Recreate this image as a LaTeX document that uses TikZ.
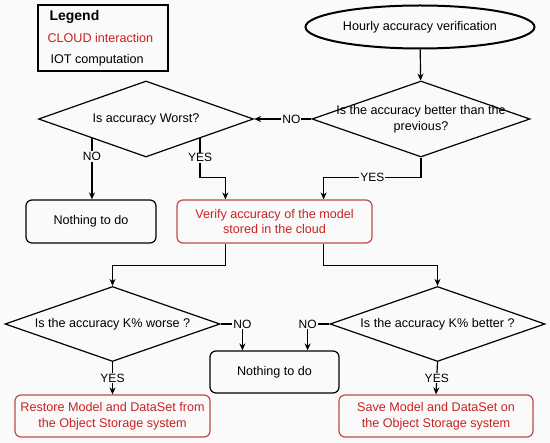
\documentclass[tikz,border=0pt]{standalone}
\usepackage{fontspec}
\setmainfont{Liberation Sans}
\usepackage{xcolor}
\usepackage{tikz}
\usetikzlibrary{shapes.geometric,arrows.meta}
\definecolor{cloudred}{RGB}{200,35,35}
\definecolor{cloudline}{RGB}{190,75,75}
\definecolor{paper}{RGB}{250,250,250}

\begin{document}
\begin{tikzpicture}[x=1pt, y=-1pt, font=\fontsize{12.6}{15.5}\selectfont,
	box/.style={draw, rounded corners=6pt, minimum height=43pt, align=center, line width=1.2pt},
	cloudbox/.style={box, draw=cloudline, text=cloudred},
	decision/.style={draw, diamond, inner sep=0pt, line width=1.2pt},
	dtext/.style={align=center, inner sep=0pt},
	flow/.style={-{Stealth[length=7pt,width=6pt]}, line width=1.2pt},
	lbl/.style={fill=paper, inner sep=1pt, font=\fontsize{12}{14}\selectfont}]
	\fill[paper] (0,0) rectangle (550,443);
	% legend
	\node[draw, line width=1.2pt, minimum width=130pt, minimum height=66pt] (legend) at (103,38) {};
	\node[anchor=west, font=\bfseries\fontsize{14}{16}\selectfont] (lgtitle) at (46,17) {Legend};
	\node[anchor=west, text=cloudred] (lgcloud) at (44,38) {CLOUD interaction};
	\node[anchor=west] (lgiot) at (47,60) {IOT computation};
	% nodes
	\node[draw, ellipse, line width=2pt, minimum width=229pt, minimum height=43pt] (start) at (420,27) {Hourly accuracy verification};
	\node[decision, minimum width=218pt, minimum height=76pt, label={[dtext]center:Is the accuracy better than the\\previous?}] (better) at (421,119) {};
	\node[decision, minimum width=215pt, minimum height=76pt, label={[dtext]center:Is accuracy Worst?}] (worst) at (146,119) {};
	\node[box, minimum width=130pt] (nothingA) at (91,221.5) {Nothing to do};
	\node[cloudbox, minimum width=195pt] (verify) at (274.5,221.5) {Verify accuracy of the model\\stored in the cloud};
	\node[decision, minimum width=215pt, minimum height=75pt, label={[dtext]center:Is the accuracy K\% worse ?}] (worse) at (112.5,324) {};
	\node[decision, minimum width=215pt, minimum height=75pt, label={[dtext]center:Is the accuracy K\% better ?}] (kbetter) at (437.5,324) {};
	\node[box, minimum width=129pt, minimum height=42pt] (nothingB) at (274.5,372) {Nothing to do};
	\node[cloudbox, minimum width=195pt, minimum height=42pt] (restore) at (112.5,416) {Restore Model and DataSet from\\the Object Storage system};
	\node[cloudbox, minimum width=194pt, minimum height=42pt] (save) at (436,416) {Save Model and DataSet on\\the Object Storage system};
	% connectors
	\draw[flow] (start) -- (better);
	\draw[flow] (better.west) -- node[lbl, pos=0.35] {NO} (worst.east);
	\draw[flow] (worst.south west) -- node[lbl, pos=0.3] {NO} (worst.south west |- nothingA.north);
	\draw[flow] (worst.south east) |- node[lbl, pos=0.25] {YES} ([xshift=49pt, yshift=22pt]verify.north west) -- ([xshift=49pt]verify.north west);
	\draw[flow] (better.south) |- node[lbl, pos=0.75] {YES} ([xshift=-49pt, yshift=22pt]verify.north east) -- ([xshift=-49pt]verify.north east);
	\draw[flow] ([xshift=49pt]verify.south west) -- ++(0,22) -| (worse.north);
	\draw[flow] ([xshift=-49pt]verify.south east) -- ++(0,22) -| (kbetter.north);
	\draw[flow] (worse.east) -| node[lbl, pos=0.5] {NO} ([xshift=33pt]nothingB.north west);
	\draw[flow] (kbetter.west) -| node[lbl, pos=0.5] {NO} ([xshift=-32pt]nothingB.north east);
	\draw[flow] (worse.south) -- node[lbl] {YES} (restore.north);
	\draw[flow] (kbetter.south) -- node[lbl] {YES} (save.north);
\end{tikzpicture}
\end{document}
